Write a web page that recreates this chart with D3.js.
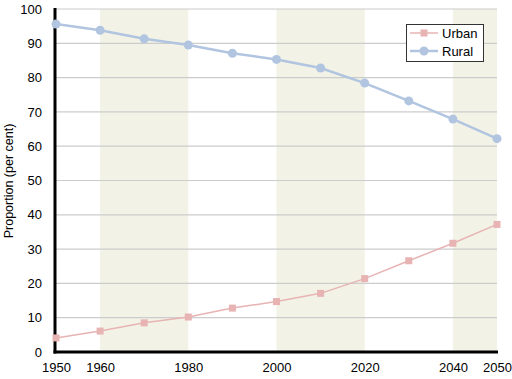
<!DOCTYPE html>
<html><head><meta charset="utf-8">
<script src="https://cdn.jsdelivr.net/npm/d3@7"></script>
<style>body{margin:0;background:#fff}svg{display:block}text{font-family:"Liberation Sans",Arial,sans-serif}</style>
</head><body><svg id="c" width="512" height="379"></svg>
<script>
const years = [1950,1960,1970,1980,1990,2000,2010,2020,2030,2040,2050];
const urban = [4.1,6.1,8.5,10.2,12.8,14.7,17.1,21.4,26.6,31.7,37.2];
const rural = [95.6,93.8,91.3,89.5,87.1,85.3,82.8,78.4,73.2,67.9,62.2];
const xTicks = [1950,1960,1980,2000,2020,2040,2050];
const yTicks = [0,10,20,30,40,50,60,70,80,90,100];
const bands = [[1960,1980],[2000,2020],[2040,2050]];

const svg = d3.select("#c");
const x = d3.scaleLinear().domain([1950,2050]).range([56,497]);
const y = d3.scaleLinear().domain([0,100]).range([352,9]);

svg.append("g").selectAll("rect").data(bands).join("rect")
  .attr("x",d=>x(d[0])).attr("width",d=>x(d[1])-x(d[0]))
  .attr("y",y(100)).attr("height",y(0)-y(100)).attr("fill","#f2f3e6");

svg.append("g").selectAll("line").data(yTicks.filter(d=>d>0)).join("line")
  .attr("x1",56).attr("x2",497).attr("y1",d=>y(d)).attr("y2",d=>y(d))
  .attr("stroke","#cccccc").attr("stroke-width",1.2);

const yAxis = svg.append("g").attr("transform","translate(55,0)")
  .call(d3.axisLeft(y).tickValues(yTicks).tickSize(0).tickPadding(13));
yAxis.select(".domain").remove();
yAxis.selectAll("text").attr("font-size",13).attr("fill","#000").attr("font-family","Liberation Sans, Arial, sans-serif");

const xAxis = svg.append("g").attr("transform","translate(0,352)")
  .call(d3.axisBottom(x).tickValues(xTicks).tickFormat(d3.format("d")).tickSize(0).tickPadding(11));
xAxis.select(".domain").remove();
xAxis.selectAll("text").attr("font-size",13).attr("fill","#000").attr("font-family","Liberation Sans, Arial, sans-serif");

svg.append("line").attr("x1",55).attr("x2",55).attr("y1",y(100)-1).attr("y2",353.5).attr("stroke","#000").attr("stroke-width",3);
svg.append("line").attr("x1",53.5).attr("x2",498).attr("y1",352).attr("y2",352).attr("stroke","#000").attr("stroke-width",3);

svg.append("text").attr("transform","translate(13,181) rotate(-90)").attr("text-anchor","middle")
  .attr("font-size",12.5).text("Proportion (per cent)");

const uCol = "#e8b3b3", rCol = "#b1c5e0";
const line = d3.line().x((d,i)=>x(years[i])).y(d=>y(d));
svg.append("path").datum(urban).attr("d",line).attr("fill","none").attr("stroke",uCol).attr("stroke-width",1.5);
svg.append("path").datum(rural).attr("d",line).attr("fill","none").attr("stroke",rCol).attr("stroke-width",2.5);
svg.append("g").selectAll("rect").data(urban).join("rect")
  .attr("x",(d,i)=>x(years[i])-3.5).attr("y",d=>y(d)-3.5).attr("width",7).attr("height",7).attr("fill",uCol);
svg.append("g").selectAll("circle").data(rural).join("circle")
  .attr("cx",(d,i)=>x(years[i])).attr("cy",d=>y(d)).attr("r",4.5).attr("fill",rCol);

const lg = svg.append("g");
lg.append("rect").attr("x",406.5).attr("y",24.5).attr("width",77).attr("height",37).attr("fill","#fff").attr("stroke","#333").attr("stroke-width",1);
[["Urban",uCol,"sq",33],["Rural",rCol,"ci",51]].forEach(([t,c,m,yy])=>{
  lg.append("line").attr("x1",410).attr("x2",438).attr("y1",yy).attr("y2",yy).attr("stroke",c).attr("stroke-width",m==="sq"?1.5:2.5);
  if(m==="sq") lg.append("rect").attr("x",420.5).attr("y",yy-3.5).attr("width",7).attr("height",7).attr("fill",c);
  else lg.append("circle").attr("cx",424).attr("cy",yy).attr("r",4.5).attr("fill",c);
  lg.append("text").attr("x",442).attr("y",yy+4.5).attr("font-size",13).text(t);
});
</script></body></html>
